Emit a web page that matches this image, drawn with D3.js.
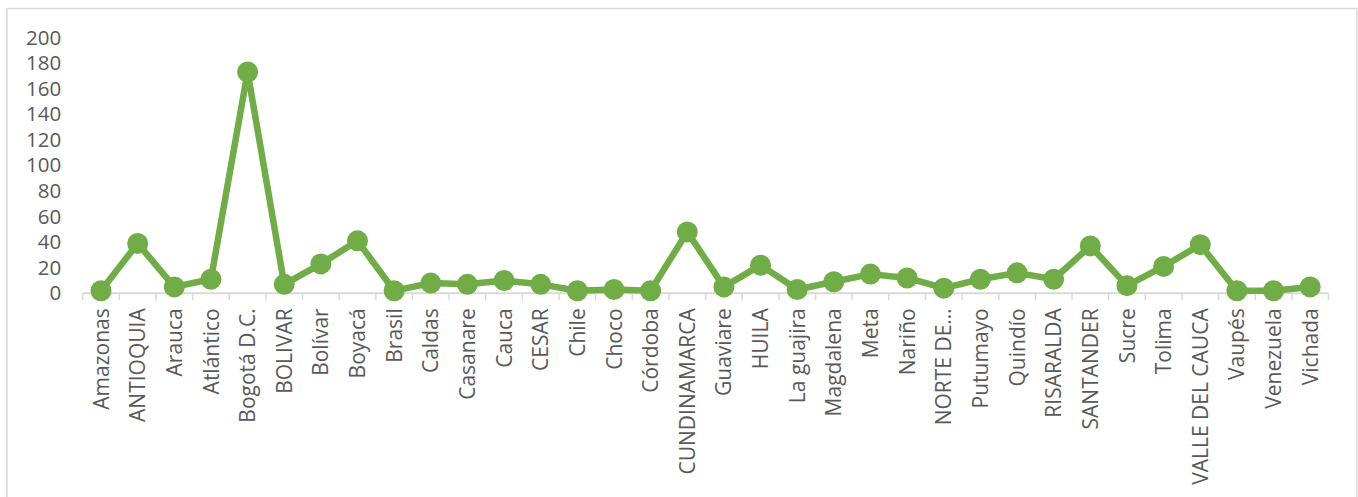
<!DOCTYPE html>
<html>
<head>
<meta charset="utf-8">
<script src="https://cdn.jsdelivr.net/npm/d3@7"></script>
<style>
  body { margin: 0; background: #fff; }
  svg text { font-family: "Open Sans", sans-serif; fill: #595959; }
</style>
</head>
<body>
<svg id="chart" width="1358" height="497"></svg>
<script>
// Categories (departments / countries) and counts
const categories = [
  'Amazonas', 'ANTIOQUIA', 'Arauca', 'Atlántico', 'Bogotá D.C.', 'BOLIVAR',
  'Bolívar', 'Boyacá', 'Brasil', 'Caldas', 'Casanare', 'Cauca', 'CESAR',
  'Chile', 'Choco', 'Córdoba', 'CUNDINAMARCA', 'Guaviare', 'HUILA',
  'La guajira', 'Magdalena', 'Meta', 'Nariño', 'NORTE DE…', 'Putumayo',
  'Quindío', 'RISARALDA', 'SANTANDER', 'Sucre', 'Tolima', 'VALLE DEL CAUCA',
  'Vaupés', 'Venezuela', 'Vichada'
];
const counts = [
  2, 39, 5, 11, 173, 7,
  23, 41, 2, 8, 7, 10, 7,
  2, 3, 2, 48, 5, 22,
  3, 9, 15, 12, 4, 11,
  16, 11, 37, 6, 21, 38,
  2, 2, 5
];
const yTicks = [0, 20, 40, 60, 80, 100, 120, 140, 160, 180, 200];

const plot = { left: 82.7, right: 1328.5, top: 37.5, bottom: 293.3 };
const green = '#70ad47';
const grid = '#d9d9d9';

const svg = d3.select('#chart');

// outer chart border (bottom edge runs off the picture)
svg.append('rect')
  .attr('x', 7).attr('y', 8.5)
  .attr('width', 1350).attr('height', 500)
  .attr('fill', 'none')
  .attr('stroke', grid)
  .attr('stroke-width', 1.5);

const x = d3.scaleBand()
  .domain(categories)
  .range([plot.left, plot.right]);

const y = d3.scaleLinear()
  .domain([0, 200])
  .range([plot.bottom, plot.top]);

// y axis labels only (no line, no ticks)
const yAxis = svg.append('g')
  .attr('transform', `translate(${plot.left},0)`)
  .call(d3.axisLeft(y).tickValues(yTicks).tickSize(0).tickPadding(21.5));
yAxis.select('.domain').remove();
yAxis.selectAll('text')
  .attr('fill', '#595959')
  .style('font-size', '20.5px');

// x axis: tick marks sit on the band boundaries
const xAxis = svg.append('g')
  .attr('transform', `translate(0,${plot.bottom})`);
xAxis.append('line')
  .attr('x1', plot.left).attr('x2', plot.right)
  .attr('stroke', grid).attr('stroke-width', 2);
const bounds = categories.map(c => x(c)).concat([plot.right]);
xAxis.selectAll('.bound')
  .data(bounds)
  .enter().append('line')
  .attr('class', 'bound')
  .attr('x1', d => d).attr('x2', d => d)
  .attr('y1', 0).attr('y2', 7)
  .attr('stroke', grid).attr('stroke-width', 1.5);

xAxis.selectAll('.label')
  .data(categories)
  .enter().append('text')
  .attr('class', 'label')
  .attr('transform', d => `translate(${x(d) + x.bandwidth() / 2},15) rotate(-90)`)
  .attr('text-anchor', 'end')
  .attr('dy', '0.36em')
  .style('font-size', '21px')
  .text(d => d);

// series line and markers
const points = categories.map((c, i) => ({ c, v: counts[i] }));
const line = d3.line()
  .x(d => x(d.c) + x.bandwidth() / 2)
  .y(d => y(d.v));

svg.append('path')
  .datum(points)
  .attr('d', line)
  .attr('fill', 'none')
  .attr('stroke', green)
  .attr('stroke-width', 6.5)
  .attr('stroke-linejoin', 'round');

svg.selectAll('.dot')
  .data(points)
  .enter().append('circle')
  .attr('class', 'dot')
  .attr('cx', d => x(d.c) + x.bandwidth() / 2)
  .attr('cy', d => y(d.v))
  .attr('r', 10.5)
  .attr('fill', green);
</script>
</body>
</html>
